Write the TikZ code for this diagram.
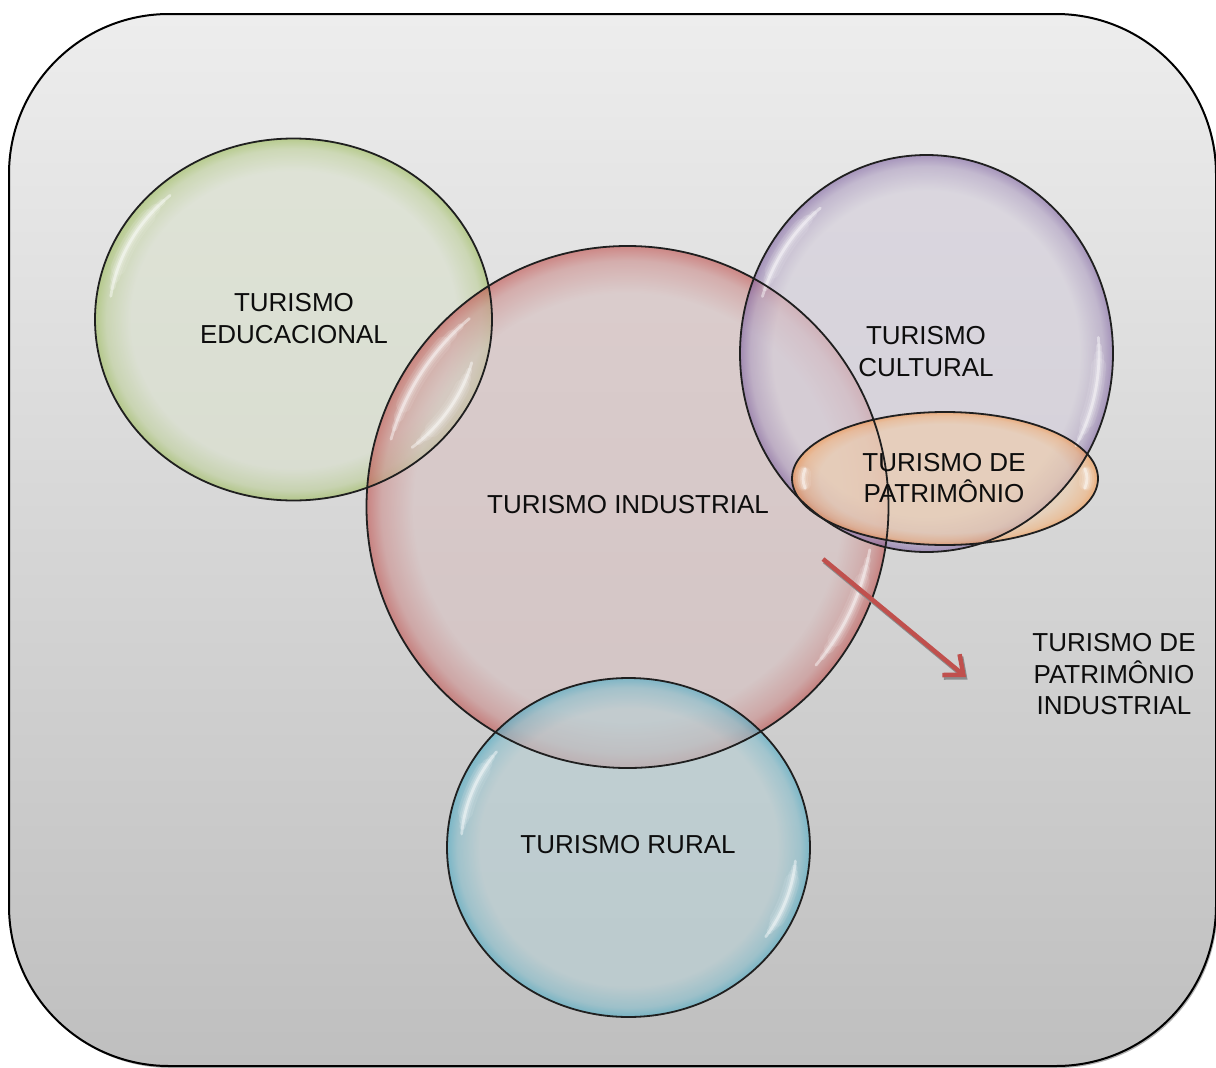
\documentclass[tikz,border=0pt]{standalone}
\usepackage{fontspec}
\setmainfont{Liberation Sans}
\usetikzlibrary{arrows.meta}

% panel colours
\definecolor{bgtop}{RGB}{237,237,237}
\definecolor{bgbot}{RGB}{191,191,191}
\definecolor{arrRed}{RGB}{192,80,77}
% bubble colours: interior / rim
\definecolor{gIn}{RGB}{218,225,205}\definecolor{gEdge}{RGB}{155,187,89}
\definecolor{rIn}{RGB}{215,192,192}\definecolor{rEdge}{RGB}{192,80,77}
\definecolor{pIn}{RGB}{212,206,219}\definecolor{pEdge}{RGB}{128,100,162}
\definecolor{oIn}{RGB}{240,205,170}\definecolor{oEdge}{RGB}{247,150,70}
\definecolor{bIn}{RGB}{184,208,213}\definecolor{bEdge}{RGB}{75,172,198}

% radial shading: flat interior, coloured rim near the outline
\newcommand\makebubble[3]{%
  \colorlet{#1mid}{#2!55!#3}%
  \pgfdeclareradialshading{#1}{\pgfpoint{0bp}{0bp}}{%
    color(0bp)=(#2); color(20.5bp)=(#2); color(23.6bp)=(#1mid);
    color(25bp)=(#3); color(50bp)=(#3)}}
\makebubble{bubgreen}{gIn}{gEdge}
\makebubble{bubred}{rIn}{rEdge}
\makebubble{bubpurple}{pIn}{pEdge}
\makebubble{boborange}{oIn}{oEdge}
\makebubble{bubblue}{bIn}{bEdge}

% soft white streak just inside a bubble rim
% #1 cx, #2 cy, #3 rx, #4 ry, #5 inset, #6 start angle, #7 end angle
\newcommand\gloss[7]{%
  \foreach \w/\o/\s in {15/0.10/0.25, 10/0.14/0.16, 6/0.22/0.08, 2.8/0.45/0.0}{%
    \pgfmathsetmacro\aS{#6+\s*(#7-#6)}%
    \pgfmathsetmacro\aE{#7-\s*(#7-#6)}%
    \draw[white, line width=\w, opacity=\o, line cap=round, shift={(#1,#2)}]
      (\aS:{#3-#5} and {#4-#5}) arc[start angle=\aS, end angle=\aE,
        x radius={#3-#5}, y radius={#4-#5}];
  }}

\tikzset{
  bubble/.style={shading=#1, fill opacity=0.62},
  rim/.style={draw=black!88, line width=1.8},
  lbl/.style={font=\fontsize{26}{31.5}\selectfont, text=black!95,
    align=center, inner sep=0pt},
  pointer/.style={line width=4.5, -{Straight Barb[length=16pt, width=27pt]}},
}

\begin{document}
\begin{tikzpicture}[x=1pt, y=-1pt]
\useasboundingbox (0,0) rectangle (1216,1068);

% panel with faint drop shadow
\fill[black!30, rounded corners=160] (10.5,16) rectangle (1217.5,1068);
\shade[top color=bgtop, bottom color=bgbot, draw=black, line width=2,
  rounded corners=160] (9,14) rectangle (1216,1066);

% bubbles
\shade[bubble=bubgreen]  (293.5,319.5) ellipse [x radius=198.5, y radius=181];
\shade[bubble=bubred]    (627.5,507)   ellipse [x radius=261,   y radius=261];
\shade[bubble=bubblue]   (628.5,847.5) ellipse [x radius=181.5, y radius=169.5];
\shade[bubble=bubpurple] (926.5,353.5) ellipse [x radius=186.5, y radius=198.5];
\shade[bubble=boborange] (945,478.5)   ellipse [x radius=153,   y radius=66.5];

% highlights
\gloss{293.5}{319.5}{198.5}{181}{14}{188}{228}
\gloss{293.5}{319.5}{198.5}{181}{14}{15}{50}
\gloss{627.5}{507}{261}{261}{15}{196}{230}
\gloss{627.5}{507}{261}{261}{15}{10}{40}
\gloss{926.5}{353.5}{186.5}{198.5}{14}{198}{232}
\gloss{926.5}{353.5}{186.5}{198.5}{14}{-5}{30}
\gloss{628.5}{847.5}{181.5}{169.5}{14}{185}{218}
\gloss{628.5}{847.5}{181.5}{169.5}{14}{5}{35}
\gloss{945}{478.5}{153}{66.5}{11}{170}{190}
\gloss{945}{478.5}{153}{66.5}{11}{-10}{10}

% outlines
\draw[rim] (293.5,319.5) ellipse [x radius=198.5, y radius=181];
\draw[rim] (627.5,507)   ellipse [x radius=261,   y radius=261];
\draw[rim] (628.5,847.5) ellipse [x radius=181.5, y radius=169.5];
\draw[rim] (926.5,353.5) ellipse [x radius=186.5, y radius=198.5];
\draw[rim] (945,478.5)   ellipse [x radius=153,   y radius=66.5];

% labels
\node[lbl] (edu) at (294,318.5) {TURISMO\\EDUCACIONAL};
\node[lbl] (ind) at (628,504.5) {TURISMO INDUSTRIAL};
\node[lbl] (cul) at (926,351.5) {TURISMO\\CULTURAL};
\node[lbl] (pat) at (944,478) {TURISMO DE\\PATRIMÔNIO};
\node[lbl] (rur) at (628,844.5) {TURISMO RURAL};
\node[lbl] (tpi) at (1114,674.5) {TURISMO DE\\PATRIMÔNIO\\INDUSTRIAL};

% pointer from the industrial bubble towards the side label
\coordinate (arrS) at (823,559);
\coordinate (arrE) at (966,677);
\draw[pointer, draw=black!45, transform canvas={shift={(1.5,2.5)}}] (arrS) -- (arrE);
\draw[pointer, draw=arrRed] (arrS) -- (arrE);
\end{tikzpicture}
\end{document}
